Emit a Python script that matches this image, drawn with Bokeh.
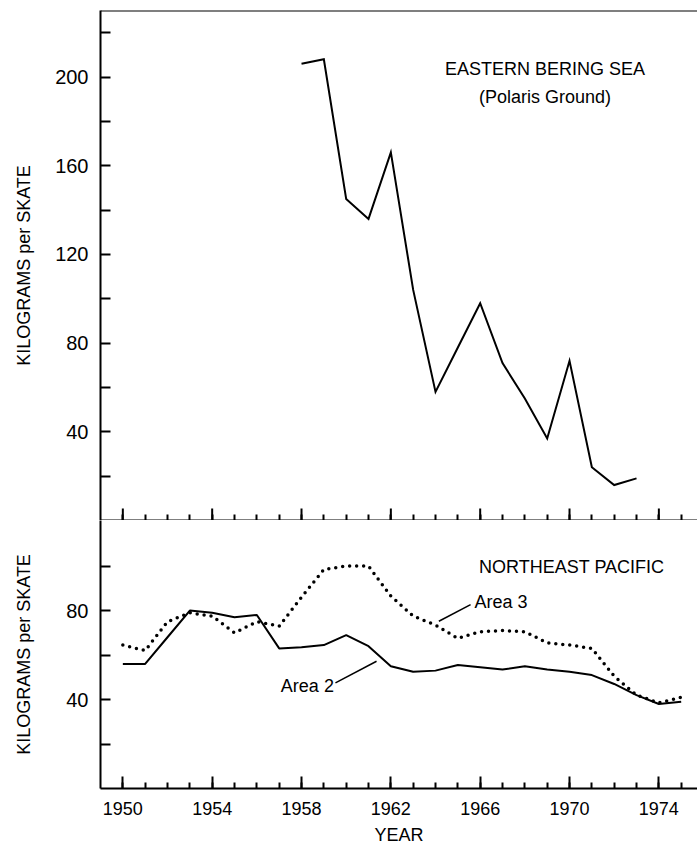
from bokeh.plotting import figure
from bokeh.layouts import column
from bokeh.models import FixedTicker, Range1d, Span, Label
from bokeh.embed import file_html
from bokeh.resources import INLINE

FONT = "Liberation Sans"

# ---- data ----
bering_years = [1958, 1959, 1960, 1961, 1962, 1963, 1964, 1965, 1966, 1967,
                1968, 1969, 1970, 1971, 1972, 1973]
bering_kg = [206, 208, 145, 136, 166, 104, 58, 78, 98, 71, 55, 37, 72, 24, 16, 19]

np_years = list(range(1950, 1976))
area2_kg = [56, 56, 68, 80, 79, 77, 78, 63, 63.5, 64.5, 69, 64, 55, 52.5, 53,
            55.5, 54.5, 53.5, 55, 53.5, 52.5, 51, 47, 42, 38, 39]
area3_kg = [64.5, 62, 75, 79, 77.5, 70, 75, 73, 86, 98.5, 100, 100, 86.5, 77.5,
            73.5, 67.5, 70.5, 71, 70.5, 65.5, 64.5, 63, 50.5, 42, 38.5, 41]

x_major = [1950, 1954, 1958, 1962, 1966, 1970, 1974]
x_minor = list(range(1950, 1976))
top_y_major = [40, 80, 120, 160, 200]
top_y_minor = [20, 60, 100, 140, 180, 220]
bot_y_major = [40, 80]
bot_y_minor = [20, 60, 100]

Y_LABEL = "KILOGRAMS per SKATE"
TOP_Y_MAX = 230
BOT_Y_MAX = 120.5


def style_common(p):
    p.xgrid.visible = False
    p.ygrid.visible = False
    p.outline_line_color = None
    p.background_fill_color = "white"
    p.border_fill_color = "white"
    for ax in p.xaxis + p.yaxis:
        ax.axis_line_width = 2
        ax.axis_line_color = "black"
        ax.major_tick_line_width = 2
        ax.minor_tick_line_width = 2
        ax.major_tick_line_color = "black"
        ax.minor_tick_line_color = "black"
        ax.major_tick_out = 0
        ax.minor_tick_out = 0
        ax.major_label_text_font = FONT
        ax.major_label_text_color = "black"
        ax.axis_label_text_font = FONT
        ax.axis_label_text_font_style = "normal"
        ax.axis_label_text_color = "black"
        ax.axis_label_text_font_size = "18px"
    for ax in p.xaxis:
        ax.major_tick_in = 12
        ax.minor_tick_in = 6
        ax.major_label_text_font_size = "18px"
    for ax in p.yaxis:
        ax.major_tick_in = 10
        ax.minor_tick_in = 10
        ax.major_label_text_font_size = "20px"
        ax.major_label_standoff = 12


# ---- top panel: Eastern Bering Sea ----
top = figure(width=697, height=520, output_backend="svg", toolbar_location=None,
             x_range=Range1d(1949, 1975.73), y_range=Range1d(0, TOP_Y_MAX),
             min_border_left=100, min_border_right=0, min_border_top=10,
             min_border_bottom=0)
style_common(top)
# shared boundary axis: year ticks pointing up, no labels
top.xaxis.ticker = FixedTicker(ticks=[], minor_ticks=x_minor)
top.yaxis.ticker = FixedTicker(ticks=top_y_major, minor_ticks=top_y_minor)
top.yaxis.axis_label = Y_LABEL
top.yaxis.axis_label_standoff = 18
top.add_layout(Span(location=TOP_Y_MAX, dimension="width", line_color="black", line_width=2))
# taller ticks at the labelled years on the shared boundary (12 px)
tick_h = 12 * TOP_Y_MAX / 510.0
top.segment(x0=x_major, y0=[0] * len(x_major), x1=x_major, y1=[tick_h] * len(x_major),
            line_color="black", line_width=2)

top.line(bering_years, bering_kg, line_color="black", line_width=2, line_join="miter")

top.add_layout(Label(x=1968.9, y=203.8, text="EASTERN BERING SEA", text_align="center",
                     text_baseline="middle", text_font=FONT, text_font_size="18px",
                     text_color="black"))
top.add_layout(Label(x=1968.9, y=190.8, text="(Polaris Ground)", text_align="center",
                     text_baseline="middle", text_font=FONT, text_font_size="18px",
                     text_color="black"))

# ---- bottom panel: Northeast Pacific ----
bot = figure(width=697, height=330, output_backend="svg", toolbar_location=None,
             x_range=Range1d(1949, 1975.73), y_range=Range1d(0, BOT_Y_MAX),
             min_border_left=100, min_border_right=0, min_border_top=0,
             min_border_bottom=62)
style_common(bot)
bot.xaxis.ticker = FixedTicker(ticks=x_major, minor_ticks=x_minor)
bot.yaxis.ticker = FixedTicker(ticks=bot_y_major, minor_ticks=bot_y_minor)
bot.yaxis.axis_label = Y_LABEL
bot.yaxis.axis_label_standoff = 29
bot.xaxis.axis_label = "YEAR"
bot.xaxis.major_label_standoff = 13
bot.xaxis.axis_label_standoff = 7

bot.line(np_years, area2_kg, line_color="black", line_width=2)
bot.line(np_years, area3_kg, line_color="black", line_width=3.5, line_dash="0 7",
         line_cap="round")

bot.add_layout(Label(x=1970.1, y=99.5, text="NORTHEAST PACIFIC", text_align="center",
                     text_baseline="middle", text_font=FONT, text_font_size="18px",
                     text_color="black"))
bot.add_layout(Label(x=1965.75, y=83.7, text="Area 3", text_align="left",
                     text_baseline="middle", text_font=FONT, text_font_size="18px",
                     text_color="black"))
bot.add_layout(Label(x=1959.45, y=46.0, text="Area 2", text_align="right",
                     text_baseline="middle", text_font=FONT, text_font_size="18px",
                     text_color="black"))
bot.segment(x0=[1965.57, 1959.52], y0=[82.7, 47.5], x1=[1964.15, 1961.36], y1=[75.2, 57.2],
            line_color="black", line_width=1.5)

layout = column(top, bot, spacing=0)
open("out.html", "w").write(file_html(layout, INLINE))
